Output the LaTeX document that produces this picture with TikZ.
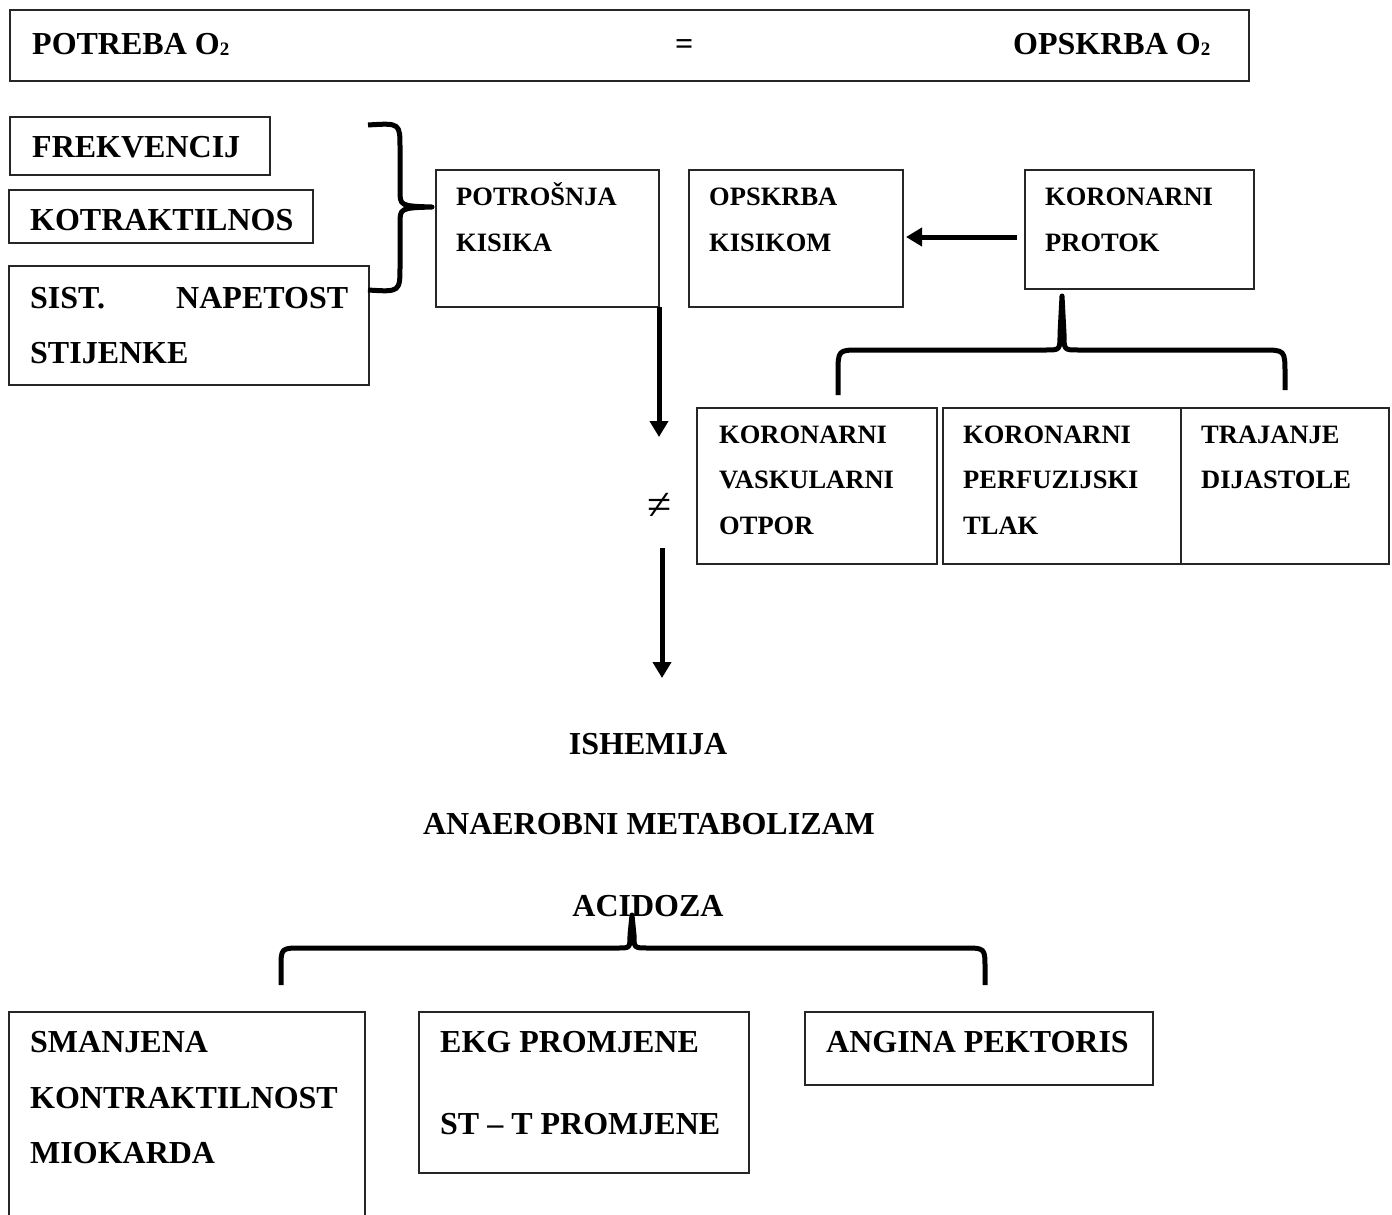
\documentclass[tikz,border=0pt]{standalone}
\usepackage{fontspec}
\setmainfont{Liberation Serif}
\usetikzlibrary{arrows.meta}
\newcommand{\subtwo}{\raisebox{-1pt}{\fontsize{19}{19}\selectfont 2}}
\begin{document}
\begin{tikzpicture}[x=1pt,y=-1pt,
  box/.style={draw=black!85, line width=1.3pt, inner sep=0, outer sep=0, anchor=north west},
  big/.style={font=\bfseries\fontsize{32}{32}\selectfont, inner sep=0, anchor=base west},
  small/.style={font=\bfseries\fontsize{26.5}{26.5}\selectfont, inner sep=0, anchor=base west},
  bigc/.style={font=\bfseries\fontsize{32}{32}\selectfont, inner sep=0, anchor=base},
  arr/.style={line width=5pt, -{Triangle[width=18pt,length=16pt]}},
  bracestyle/.style={line width=5pt, line join=round}]
\useasboundingbox (0,0) rectangle (1392,1215);
\fill[white] (0,0) rectangle (1392,1215);
% boxes
\node[box, minimum width=1239pt, minimum height=71pt] (top) at (10,10) {};
\node[box, minimum width=260pt, minimum height=58pt] (frek) at (10,117) {};
\node[box, minimum width=304pt, minimum height=53pt] (kotr) at (9,190) {};
\node[box, minimum width=360pt, minimum height=119pt] (sist) at (9,266) {};
\node[box, minimum width=223pt, minimum height=137pt] (potr) at (436,170) {};
\node[box, minimum width=214pt, minimum height=137pt] (opsk) at (689,170) {};
\node[box, minimum width=229pt, minimum height=119pt] (koro) at (1025,170) {};
\node[box, minimum width=240pt, minimum height=156pt] (kvo) at (697,408) {};
\node[box, minimum width=238pt, minimum height=156pt] (kpt) at (943,408) {};
\node[box, minimum width=208pt, minimum height=156pt] (trd) at (1181,408) {};
\node[box, minimum width=356pt, minimum height=215pt] (sman) at (9,1012) {};
\node[box, minimum width=330pt, minimum height=161pt] (ekg) at (419,1012) {};
\node[box, minimum width=348pt, minimum height=73pt] (ang) at (805,1012) {};
% texts
\node[big] (t1) at (32,55) {POTREBA O\subtwo};
\node[big] (teq) at (675,55) {=};
\node[big] (t2) at (1013,55) {OPSKRBA O\subtwo};
\node[big] (t3) at (32,157) {FREKVENCIJ};
\node[big] (t4) at (30,230) {KOTRAKTILNOS};
\node[big, text width=318pt] (t5) at (30,308) {SIST.\hfill NAPETOST};
\node[big] (t6) at (30,363) {STIJENKE};
\node[small] (t7) at (456,205) {POTROŠNJA};
\node[small] (t8) at (456,251) {KISIKA};
\node[small] (t9) at (709,205) {OPSKRBA};
\node[small] (t10) at (709,251) {KISIKOM};
\node[small] (t11) at (1045,205) {KORONARNI};
\node[small] (t12) at (1045,251) {PROTOK};
\node[small] (t13) at (719,443) {KORONARNI};
\node[small] (t14) at (719,488) {VASKULARNI};
\node[small] (t15) at (719,534) {OTPOR};
\node[small] (t16) at (963,443) {KORONARNI};
\node[small] (t17) at (963,488) {PERFUZIJSKI};
\node[small] (t18) at (963,534) {TLAK};
\node[small] (t19) at (1201,443) {TRAJANJE};
\node[small] (t20) at (1201,488) {DIJASTOLE};
\node[font=\fontsize{44}{44}\selectfont, inner sep=0] (neq) at (660,506) {≠};
\node[bigc] (ish) at (648,754) {ISHEMIJA};
\node[bigc] (ana) at (649,834) {ANAEROBNI METABOLIZAM};
\node[bigc] (aci) at (648,916) {ACIDOZA};
\node[big] (t21) at (30,1052) {SMANJENA};
\node[big] (t22) at (30,1108) {KONTRAKTILNOST};
\node[big] (t23) at (30,1163) {MIOKARDA};
\node[big] (t24) at (440,1052) {EKG PROMJENE};
\node[big] (t25) at (440,1134) {ST – T PROMJENE};
\node[big] (t26) at (826,1052) {ANGINA PEKTORIS};
% arrows
\coordinate (a1e) at (659,437);
\draw[arr] (potr.south east) -- (a1e);
\coordinate (a2s) at (662,548);
\coordinate (a2e) at (662,678);
\draw[arr] (a2s) -- (a2e);
\draw[arr] ([shift={(-8,7.5)}]koro.west) -- ([shift={(3,-1.5)}]opsk.east);
% braces
\draw[bracestyle] (368,125) .. controls (400,123) .. (400,148) -- (400,190)
  .. controls (400,206) .. (432,207) .. controls (400,208) .. (400,224) -- (400,266)
  .. controls (400,292) .. (368,290);
\draw[bracestyle] (838,395) -- (838,374) .. controls (838,350) .. (860,350) -- (1046,350)
  .. controls (1060,350) .. (1060,334) -- (1062,296) -- (1064,334)
  .. controls (1064,350) .. (1078,350) -- (1262,350) .. controls (1285,350) .. (1285,374) -- (1285,390);
\draw[bracestyle] (281,985) -- (281,968) .. controls (281,948) .. (302,948) -- (618,948)
  .. controls (630,948) .. (630,935) -- (632,915) -- (634,935)
  .. controls (634,948) .. (648,948) -- (964,948) .. controls (985,948) .. (985,968) -- (985,985);
\end{tikzpicture}
\end{document}
